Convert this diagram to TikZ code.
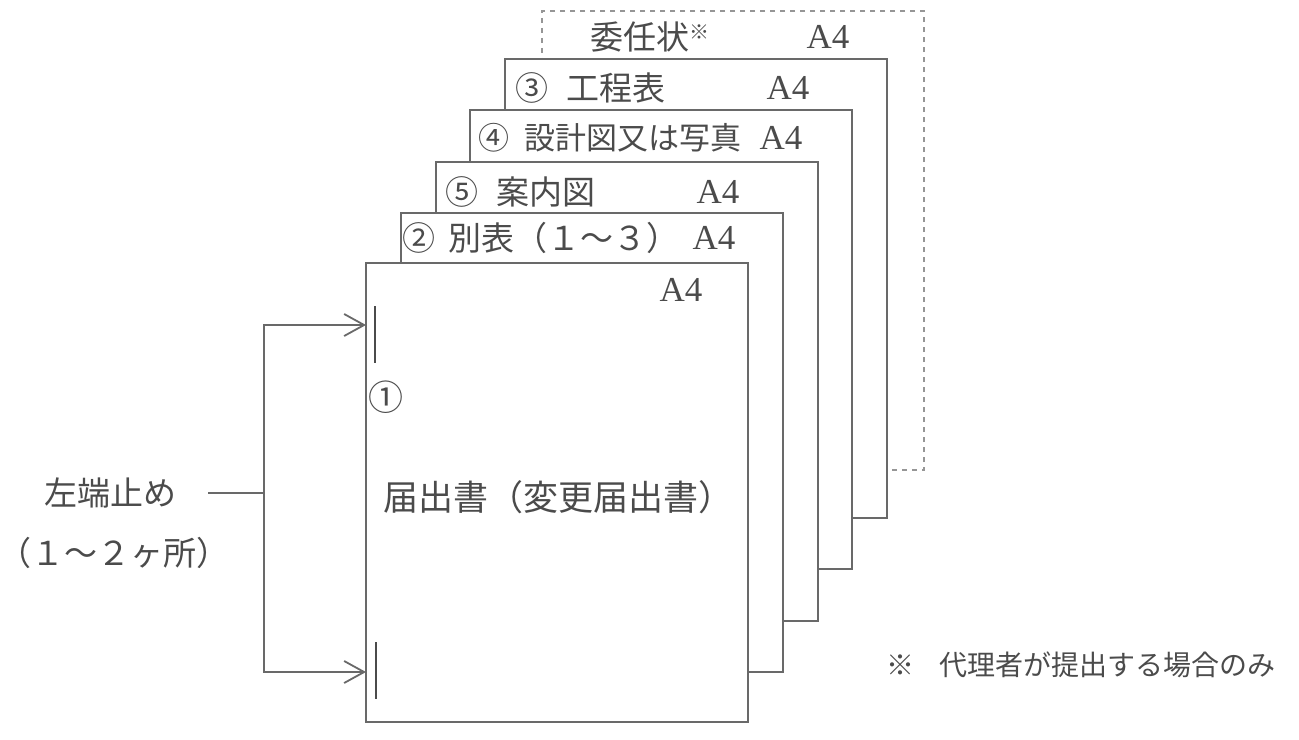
\documentclass[tikz,border=0pt]{standalone}
\usepackage{fontspec}
\setmainfont{Liberation Serif}
\newfontfamily\jpfont{Noto Sans CJK JP}
\usetikzlibrary{arrows.meta}
\definecolor{ink}{RGB}{75,75,75}
\definecolor{edge}{RGB}{105,105,105}
\definecolor{dashedge}{RGB}{150,150,150}
\def\PgW{191pt}
\def\PgH{229.5pt}
\tikzset{
  page/.style={
    draw=#1, fill=white, line width=0.6pt,
    minimum width=\PgW, minimum height=\PgH,
    anchor=north west, inner sep=0pt, outer sep=0pt,
  },
  page/.default=edge,
  optpage/.style={page=dashedge, dash pattern=on 2.5pt off 2.5pt},
  hdr/.style={anchor=west, inner sep=0pt, font=\fontsize{16.5}{19}\jpfont, text=ink},
  size/.style={inner sep=0pt, font=\fontsize{17.5}{19}\selectfont, text=ink},
  sidelbl/.style={inner sep=0pt, font=\fontsize{16.5}{19}\jpfont, text=ink},
  notelbl/.style={anchor=west, inner sep=0pt, font=\fontsize{14}{17}\jpfont, text=ink},
  staple/.style={draw=ink, line width=1.1pt},
  conn/.style={draw=edge, line width=0.9pt},
  arr/.style={conn, -{Straight Barb[length=10pt, width=11pt]}},
}

\begin{document}
\begin{tikzpicture}[x=0.5pt,y=-0.5pt]
  \useasboundingbox (0,0) rectangle (1299,739);

  % sheets, back to front
  \node[optpage] (ininjo) at (542,11) {};
  \node[page] (kotei) at (505,59) {};
  \node[page] (sekkei) at (470,110) {};
  \node[page] (annai) at (436,162) {};
  \node[page] (beppyo) at (401,213) {};
  \node[page] (front) at (366,263) {};

  % sheet headers
  \node[hdr] (ininjoT) at (590,37) {委任状\raisebox{0.55ex}{\fontsize{10}{10}\selectfont ※}};
  \node[size] (ininjoA) at (828,37) {A4};
  \node[hdr] (koteiT) at (515,88) {③\hspace{0.55em}工程表};
  \node[size] (koteiA) at (788,88) {A4};
  \node[hdr, font=\fontsize{15.5}{19}\jpfont] (sekkeiT) at (478,138) {④\hspace{0.5em}設計図又は写真};
  \node[size] (sekkeiA) at (781,138) {A4};
  \node[hdr] (annaiT) at (445,192) {⑤\hspace{0.55em}案内図};
  \node[size] (annaiA) at (718,192) {A4};
  \node[hdr] (beppyoT) at (402,238) {②\hspace{0.4em}別表（１～３）};
  \node[size] (beppyoA) at (714,238) {A4};

  % front sheet
  \node[size] (frontA) at (681,290) {A4};
  \node[sidelbl, font=\fontsize{17.5}{19}\jpfont] (frontNo) at (386,397) {①};
  \node[hdr, font=\fontsize{17.5}{19}\jpfont] (frontT) at (383,497) {届出書（変更届出書）};

  % staples
  \coordinate (stapA) at (366,325);
  \coordinate (stapB) at (366,672);
  \draw[staple] (375,306) -- (375,363);
  \draw[staple] (376,642) -- (376,699);

  % binding label
  \node[sidelbl] (lbl) at (110,493) {左端止め};
  \node[sidelbl] (lblsub) at (114,553) {（１～２ヶ所）};
  \coordinate (jn) at (264,493);
  \draw[conn] ([xshift=16pt]lbl.east) -- (jn);
  \draw[arr] (jn) |- (stapA);
  \draw[arr] (jn) |- (stapB);

  \node[notelbl] (note) at (886,665) {※\hspace{0.9em}代理者が提出する場合のみ};
\end{tikzpicture}
\end{document}
